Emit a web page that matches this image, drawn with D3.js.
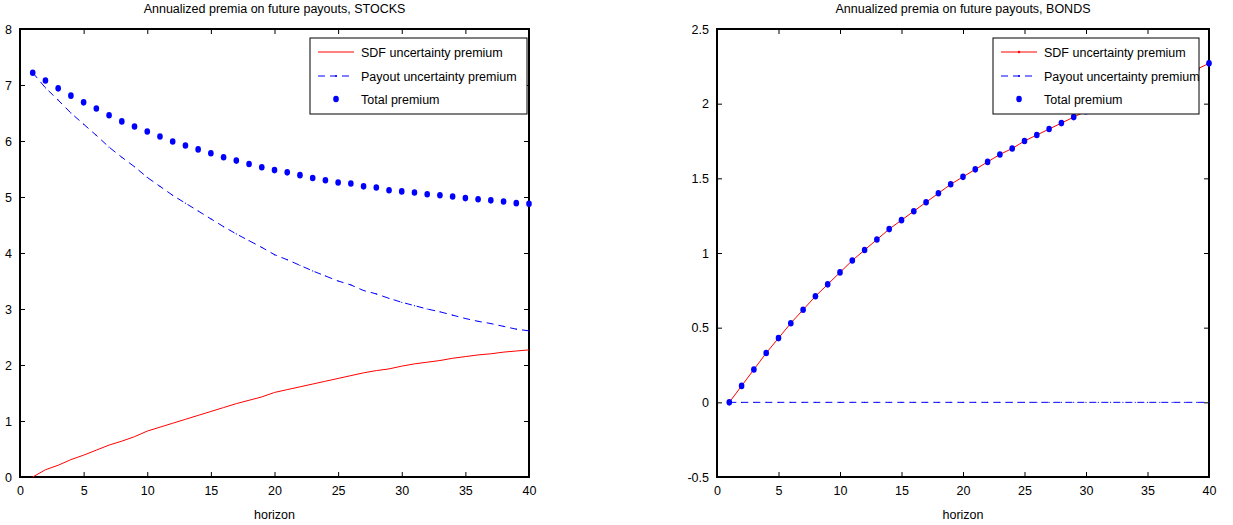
<!DOCTYPE html>
<html>
  <head>
    <script type="text/javascript" src="https://cdn.jsdelivr.net/npm/d3@7"></script>
    <style>
      body { margin: 0; background: #fff; }
      text { font-family: "Liberation Sans", Arial, sans-serif; fill: #000; }
      .axisline { fill: none; stroke: #000; stroke-width: 2; }
      .tick line { stroke: #000; }
    </style>
  </head>
  <body>
    <script type="text/javascript">
      WIDTH = 1233
      HEIGHT = 525

      // horizon 1..40
      var horizon = d3.range(1, 41)
      var xTicks = [0, 5, 10, 15, 20, 25, 30, 35, 40]
      var stockTicks = [0, 1, 2, 3, 4, 5, 6, 7, 8]
      var bondTicks = [-0.5, 0, 0.5, 1, 1.5, 2, 2.5]
      var legendNames = ["SDF uncertainty premium", "Payout uncertainty premium", "Total premium"]

      // STOCKS
      var stockSdf = [0, 0.13, 0.21, 0.31, 0.39, 0.48, 0.57, 0.64, 0.72, 0.82,
                      0.89, 0.96, 1.03, 1.10, 1.17, 1.24, 1.31, 1.37, 1.43, 1.51,
                      1.56, 1.61, 1.66, 1.71, 1.76, 1.81, 1.86, 1.90, 1.93, 1.98,
                      2.02, 2.05, 2.08, 2.12, 2.15, 2.18, 2.20, 2.23, 2.25, 2.27]
      var stockPayout = [7.22, 6.95, 6.73, 6.50, 6.30, 6.10, 5.89, 5.71, 5.54, 5.35,
                         5.19, 5.03, 4.89, 4.75, 4.61, 4.47, 4.34, 4.22, 4.10, 3.97,
                         3.88, 3.78, 3.68, 3.59, 3.50, 3.43, 3.33, 3.27, 3.19, 3.12,
                         3.06, 3.00, 2.95, 2.89, 2.83, 2.78, 2.74, 2.69, 2.64, 2.61]
      var stockTotal = [7.22, 7.08, 6.94, 6.81, 6.69, 6.58, 6.46, 6.35, 6.26, 6.17,
                        6.08, 5.99, 5.92, 5.85, 5.78, 5.71, 5.65, 5.59, 5.53, 5.48,
                        5.44, 5.39, 5.34, 5.30, 5.26, 5.24, 5.19, 5.17, 5.12, 5.10,
                        5.08, 5.05, 5.03, 5.01, 4.98, 4.96, 4.94, 4.92, 4.89, 4.88]

      // BONDS
      var bondSdf = [0, 0.11, 0.22, 0.33, 0.43, 0.53, 0.62, 0.71, 0.79, 0.87,
                     0.95, 1.02, 1.09, 1.16, 1.22, 1.28, 1.34, 1.40, 1.46, 1.51,
                     1.56, 1.61, 1.66, 1.70, 1.75, 1.79, 1.83, 1.87, 1.91, 1.95,
                     1.98, 2.02, 2.05, 2.08, 2.11, 2.14, 2.17, 2.20, 2.23, 2.27]
      var bondPayout = [0, 0, 0, 0, 0, 0, 0, 0, 0, 0, 0, 0, 0, 0, 0, 0, 0, 0, 0, 0,
                        0, 0, 0, 0, 0, 0, 0, 0, 0, 0, 0, 0, 0, 0, 0, 0, 0, 0, 0, 0]
      var bondTotal = bondSdf.slice()

      var svg = d3.select("body")
            .append("svg")
            .attr("width", WIDTH)
            .attr("height", HEIGHT)

      drawPanel({
        left: 20, right: 529, top: 29, bottom: 477,
        yDomain: [0, 8], yTicks: stockTicks,
        title: "Annualized premia on future payouts, STOCKS",
        sdf: stockSdf, payout: stockPayout, total: stockTotal,
        sdfMarkers: false,
        legend: { x: 310, y: 38, w: 217, h: 76 }
      })

      drawPanel({
        left: 717, right: 1209, top: 29, bottom: 477,
        yDomain: [-0.5, 2.5], yTicks: bondTicks,
        title: "Annualized premia on future payouts, BONDS",
        sdf: bondSdf, payout: bondPayout, total: bondTotal,
        sdfMarkers: true,
        legend: { x: 993, y: 38, w: 206, h: 76 }
      })

      function drawPanel(p)
      {
        var g = svg.append("g")
        var x = d3.scaleLinear().domain([0, 40]).range([p.left, p.right])
        var y = d3.scaleLinear().domain(p.yDomain).range([p.bottom, p.top])

        // title and x label
        g.append("text")
          .attr("x", (p.left + p.right) / 2).attr("y", 13)
          .attr("text-anchor", "middle").style("font-size", "12.5px")
          .text(p.title)
        g.append("text")
          .attr("x", (p.left + p.right) / 2).attr("y", 519)
          .attr("text-anchor", "middle").style("font-size", "12.5px")
          .text("horizon")

        // axes, ticks pointing inward like matlab
        var fmt = function(d) { return String(d) }
        g.append("g").attr("transform", "translate(0," + p.bottom + ")")
          .call(d3.axisBottom(x).tickValues(xTicks).tickFormat(fmt).tickSizeInner(-5).tickSizeOuter(0).tickPadding(9))
          .call(styleAxis)
        g.append("g").attr("transform", "translate(0," + p.top + ")")
          .call(d3.axisTop(x).tickValues(xTicks).tickFormat("").tickSizeInner(-5).tickSizeOuter(0))
          .call(styleAxis)
        g.append("g").attr("transform", "translate(" + p.left + ",0)")
          .call(d3.axisLeft(y).tickValues(p.yTicks).tickFormat(fmt).tickSizeInner(-5).tickSizeOuter(0).tickPadding(8))
          .call(styleAxis)
        g.append("g").attr("transform", "translate(" + p.right + ",0)")
          .call(d3.axisRight(y).tickValues(p.yTicks).tickFormat("").tickSizeInner(-5).tickSizeOuter(0))
          .call(styleAxis)
        g.append("rect").attr("class", "axisline")
          .attr("x", p.left).attr("y", p.top)
          .attr("width", p.right - p.left).attr("height", p.bottom - p.top)

        var line = d3.line()
          .x(function(d, i) { return x(horizon[i]) })
          .y(function(d) { return y(d) })

        // payout: dashed blue
        g.append("path").datum(p.payout)
          .attr("d", line).attr("fill", "none")
          .attr("stroke", "#0000ff").attr("stroke-width", 1)
          .attr("stroke-dasharray", "7,5")
        g.selectAll(".pdot").data(p.payout).enter().append("circle")
          .attr("cx", function(d, i) { return x(horizon[i]) })
          .attr("cy", function(d) { return y(d) })
          .attr("r", 0.6).attr("fill", "#0000ff")

        // sdf: solid red
        g.append("path").datum(p.sdf)
          .attr("d", line).attr("fill", "none")
          .attr("stroke", "#ff0000").attr("stroke-width", 1)
        if (p.sdfMarkers)
        {
          g.selectAll(".sdot").data(p.sdf).enter().append("circle")
            .attr("cx", function(d, i) { return x(horizon[i]) })
            .attr("cy", function(d) { return y(d) })
            .attr("r", 1.2).attr("fill", "#ff0000")
        }

        // total premium: blue dots
        g.selectAll(".tdot").data(p.total).enter().append("ellipse")
          .attr("cx", function(d, i) { return x(horizon[i]) })
          .attr("cy", function(d) { return y(d) })
          .attr("rx", 2.8).attr("ry", 3.3).attr("fill", "#0000ff")

        // legend box drawn on top
        var L = p.legend
        var lg = g.append("g")
        lg.append("rect").attr("x", L.x).attr("y", L.y)
          .attr("width", L.w).attr("height", L.h)
          .attr("fill", "#fff").attr("stroke", "#000").attr("stroke-width", 1)
        var rows = [L.y + 14, L.y + 38, L.y + 61]
        legendNames.forEach(function(name, i) {
          var ry = rows[i]
          var x0 = L.x + 8, x1 = L.x + 44
          if (i == 0)
          {
            lg.append("line").attr("x1", x0).attr("x2", x1).attr("y1", ry).attr("y2", ry)
              .attr("stroke", "#ff0000").attr("stroke-width", 1)
            if (p.sdfMarkers)
              lg.append("circle").attr("cx", (x0 + x1) / 2).attr("cy", ry).attr("r", 1.2).attr("fill", "#ff0000")
          }
          else if (i == 1)
          {
            lg.append("line").attr("x1", x0).attr("x2", x1).attr("y1", ry).attr("y2", ry)
              .attr("stroke", "#0000ff").attr("stroke-width", 1).attr("stroke-dasharray", "7,5")
            lg.append("circle").attr("cx", (x0 + x1) / 2).attr("cy", ry).attr("r", 1).attr("fill", "#0000ff")
          }
          else
          {
            lg.append("ellipse").attr("cx", (x0 + x1) / 2).attr("cy", ry)
              .attr("rx", 2.8).attr("ry", 3.3).attr("fill", "#0000ff")
          }
          lg.append("text").attr("x", L.x + 51).attr("y", ry + 4.5)
            .style("font-size", "12.5px").text(name)
        })
      }

      function styleAxis(sel)
      {
        sel.select(".domain").remove()
        sel.selectAll(".tick line").attr("stroke", "#000")
        sel.selectAll(".tick text").style("font-size", "12.5px").attr("fill", "#000")
      }
    </script>
  </body>
</html>
